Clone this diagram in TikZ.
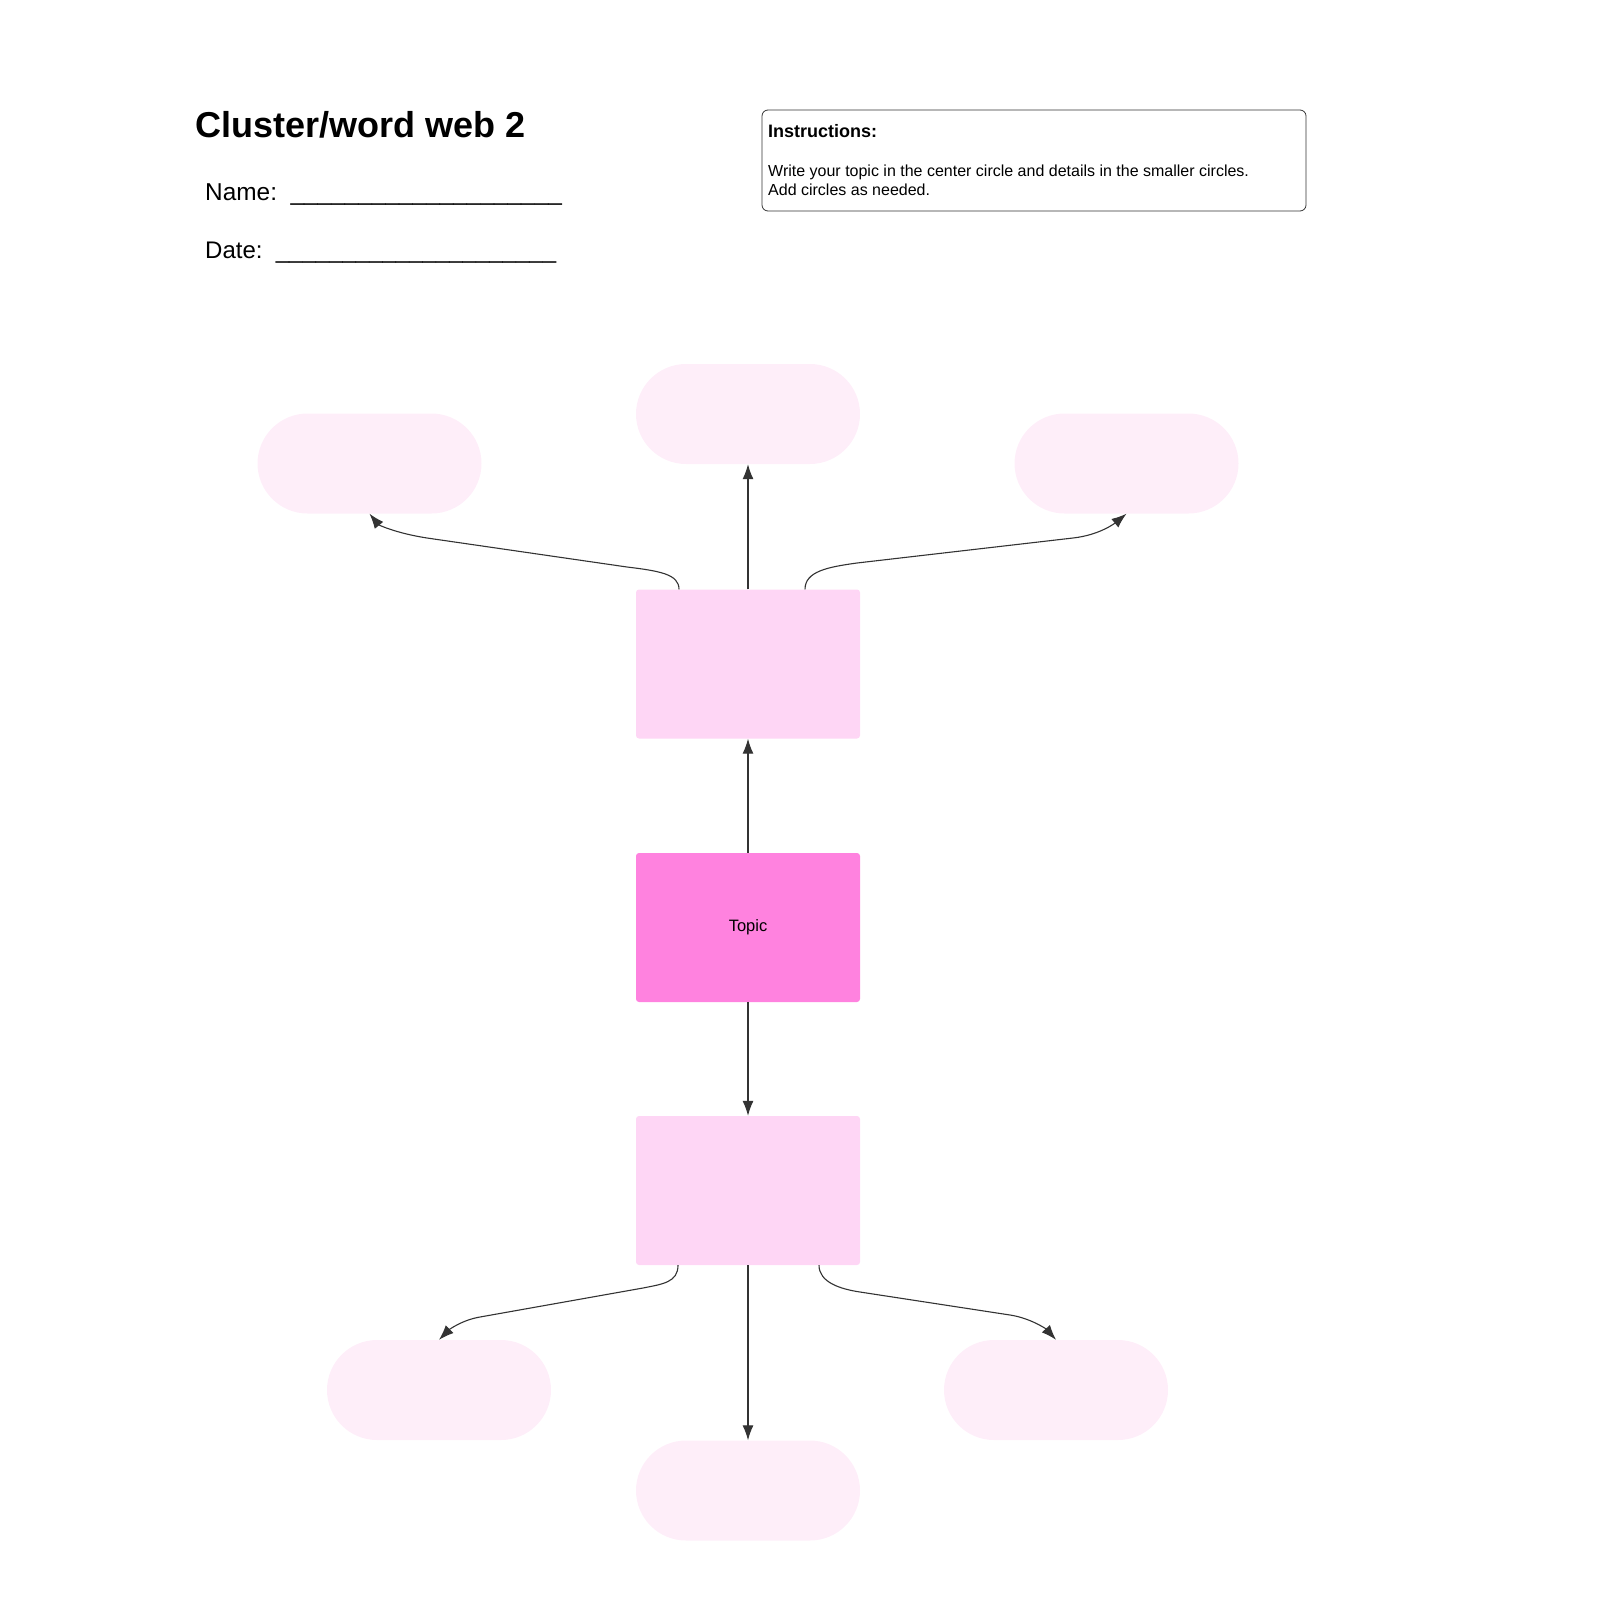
\documentclass[tikz,border=0pt]{standalone}
\usepackage{fontspec}
\setmainfont{Liberation Sans}
\usetikzlibrary{arrows.meta}

\definecolor{topicpink}{HTML}{FF82DF}
\definecolor{boxpink}{HTML}{FED6F5}
\definecolor{ovalpink}{HTML}{FEEEF9}
\definecolor{linegray}{HTML}{333333}

\newcommand{\fillline}[1]{\foreach \i in {1,...,#1}{\_}}

\tikzset{
  box/.style={rectangle, rounded corners=3pt, minimum width=224pt, minimum height=149pt, inner sep=0pt, fill=boxpink},
  oval/.style={rectangle, rounded corners=50pt, minimum width=224pt, minimum height=100pt, inner sep=0pt, fill=ovalpink},
  link/.style={color=linegray, line width=1.1pt, -{Latex[length=15pt,width=11pt]}},
  label/.style={anchor=base west, inner sep=0pt}
}

\begin{document}
\begin{tikzpicture}[x=1pt,y=-1pt]
  \useasboundingbox (0,0) rectangle (1600,1600);
  % header
  \node[label, font=\fontsize{36}{40}\selectfont\bfseries] (title) at (195,137) {Cluster/word web 2};
  \node[label, font=\fontsize{24.4}{28}\selectfont] (name) at (205,200) {Name:\ \ \fillline{20}};
  \node[label, font=\fontsize{24}{28}\selectfont] (date) at (205,258) {Date:\ \ \fillline{21}};
  \node[draw=linegray, line width=0.8pt, rounded corners=6pt, minimum width=544pt, minimum height=101pt] (instr) at (1034,160.5) {};
  \node[label, font=\fontsize{18}{20}\selectfont\bfseries] (instrhead) at (768,138) {Instructions:};
  \node[label, align=left, font=\fontsize{16}{19}\selectfont] (instrtext) at (768,195) {Write your topic in the center circle and details in the smaller circles.\\ Add circles as needed.};

  % boxes
  \node[box] (upper) at (748,664) {};
  \node[box, fill=topicpink, font=\fontsize{16.5}{19}\selectfont] (topic) at (748,927.5) {Topic};
  \node[box] (lower) at (748,1190.5) {};

  % ovals
  \node[oval] (upL) at (369.5,463.5) {};
  \node[oval] (upC) at (748,414) {};
  \node[oval] (upR) at (1126.5,463.5) {};
  \node[oval] (lowL) at (439,1390) {};
  \node[oval] (lowC) at (748,1490.5) {};
  \node[oval] (lowR) at (1056,1390) {};

  % connectors
  \draw[link] (topic.north) -- (upper.south);
  \draw[link] (topic.south) -- (lower.north);
  \draw[link] (upper.north) -- (upC.south);
  \draw[link] (lower.south) -- (lowC.north);
  \draw[link] ([xshift=-69pt]upper.north) .. controls +(0,-15) and (660,571) .. (627,567)
    -- (427,538) .. controls (395,533) and +(9,11) .. (upL.south);
  \draw[link] ([xshift=57pt]upper.north) .. controls +(0,-18) and (828,567) .. (857,563)
    -- (1073,538) .. controls (1100,535) and +(-11,9) .. (upR.south);
  \draw[link] ([xshift=-70pt]lower.south) .. controls +(0,17) and (663,1284) .. (643,1288)
    -- (480,1317) .. controls (462,1320) and +(10,-10) .. (lowL.north);
  \draw[link] ([xshift=71pt]lower.south) .. controls +(0,17) and (840,1289) .. (860,1292)
    -- (1010,1315) .. controls (1030,1318) and +(-10,-11) .. (lowR.north);
\end{tikzpicture}
\end{document}
